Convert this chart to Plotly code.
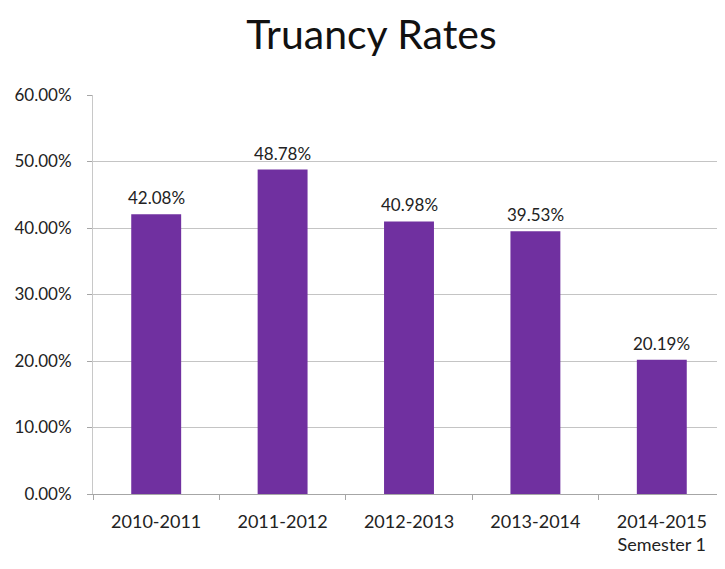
import plotly.graph_objects as go

categories = ["2010-2011", "2011-2012", "2012-2013", "2013-2014", "2014-2015<br>Semester 1"]
rates = [42.08, 48.78, 40.98, 39.53, 20.19]
y_ticks = [0, 10, 20, 30, 40, 50, 60]

FONT = "Lato, Open Sans, sans-serif"
TEXT = "#222222"

fig = go.Figure(
    go.Bar(
        x=categories,
        y=rates,
        marker=dict(color="#7030A0", line=dict(width=0)),
        hoverinfo="x+y",
    )
)

annotations = [
    dict(
        x=c, y=v, xref="x", yref="y",
        text=f"{v:.2f}%",
        showarrow=False,
        yanchor="bottom",
        yshift=4,
        font=dict(size=17, color=TEXT, family=FONT),
    )
    for c, v in zip(categories, rates)
]
annotations.append(
    dict(
        text="1",
        x=1.0, y=0.0, xref="paper", yref="paper",
        xanchor="right", yanchor="middle",
        xshift=-1, yshift=-67,
        showarrow=False,
        font=dict(size=8, color="#999999", family=FONT),
    )
)

fig.update_layout(
    width=717,
    height=561,
    margin=dict(l=85, r=0, t=87, b=75),
    paper_bgcolor="white",
    plot_bgcolor="white",
    bargap=0.605,
    showlegend=False,
    title=dict(
        text="Truancy Rates",
        x=0.507,
        xref="container",
        xanchor="center",
        y=0.953,
        yref="container",
        yanchor="middle",
        font=dict(size=41, color="#111111", family=FONT),
    ),
    font=dict(family=FONT, size=17, color=TEXT),
    annotations=annotations,
)

fig.update_xaxes(
    type="category",
    tickson="boundaries",
    ticks="outside",
    ticklen=5,
    tickcolor="#a6a6a6",
    showline=True,
    linecolor="#a6a6a6",
    linewidth=1,
    showgrid=False,
    ticklabelstandoff=11,
    tickfont=dict(size=18, color=TEXT, family=FONT),
)

fig.update_yaxes(
    range=[0, 60],
    tickvals=y_ticks,
    ticktext=[f"{v:.2f}%" for v in y_ticks],
    ticks="outside",
    ticklen=5,
    tickcolor="#a6a6a6",
    showline=True,
    linecolor="#c8c8c8",
    linewidth=1,
    showgrid=True,
    gridcolor="#c4c4c4",
    gridwidth=1,
    zeroline=False,
    ticklabelstandoff=12,
    tickfont=dict(size=17, color=TEXT, family=FONT),
)

fig.write_html("out.html")
